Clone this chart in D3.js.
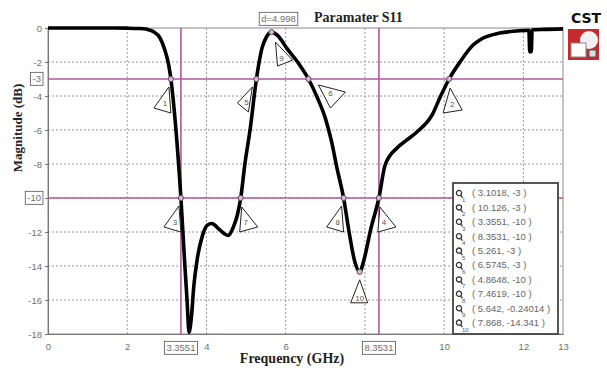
<!DOCTYPE html>
<html>
<head>
<meta charset="utf-8">
<script src="https://cdn.jsdelivr.net/npm/d3@7"></script>
<style>
  body { margin: 0; background: #fff; }
  svg { display: block; }
</style>
</head>
<body>
<div id="chart"></div>
<script>
// S11 trace
const freqGHz = [0, 0.5, 1.0, 1.5, 2.0, 2.3, 2.5, 2.65, 2.83, 2.95, 3.04, 3.1018, 3.16, 3.23, 3.3551,
  3.45, 3.51, 3.56, 3.62, 3.68, 3.76, 3.9, 4.02, 4.14, 4.3, 4.45, 4.55, 4.68, 4.78, 4.8648,
  4.97, 5.1, 5.261, 5.4, 5.52, 5.642, 5.8, 6.03, 6.3, 6.5745, 6.8, 7.0, 7.15, 7.3, 7.4619,
  7.6, 7.75, 7.868, 7.98, 8.15, 8.3531, 8.51, 8.81, 9.05, 9.32, 9.7, 9.9, 10.126, 10.4, 10.73,
  10.9, 11.4, 12.0, 12.14, 12.16, 12.2, 12.22, 12.3, 12.5, 13];
const s11dB = [0, 0, 0, 0, -0.01, -0.03, -0.08, -0.2, -0.6, -1.3, -2.1, -3, -4.2, -6, -10,
  -13.8, -16, -17.9, -17, -15.2, -13.7, -12.2, -11.6, -11.5, -11.8, -12.1, -12.2, -11.7, -11, -10,
  -8, -6, -3, -1.2, -0.5, -0.24014, -0.45, -1.2, -2.0, -3, -4.1, -5.3, -6.6, -8.3, -10,
  -12, -13.8, -14.341, -13.6, -11.8, -10, -8.06, -7.06, -6.6, -6.1, -5.1, -4.06, -3, -2.0, -1.0,
  -0.7, -0.3, -0.15, -0.13, -1.4, -1.4, -0.12, -0.1, -0.08, -0.05];

// markers 1..10
const markerFreq = [3.1018, 10.126, 3.3551, 8.3531, 5.261, 6.5745, 4.8648, 7.4619, 5.642, 7.868];
const markerDb = [-3, -3, -10, -10, -3, -3, -10, -10, -0.24014, -14.341];
const markerFlag = ['left', 'right2', 'left', 'right', 'tilt5', 'tilt6', 'right', 'left', 'top9', 'down'];

const xTicks = [0, 2, 4, 6, 8, 10, 12, 13];
const yTicks = [0, -2, -4, -6, -8, -10, -12, -14, -16, -18];
const refLevels = [-3, -10];
const refFreqs = [3.3551, 8.3531];

const w = 607, h = 372;
const pLeft = 48, pRight = 563, pTop = 28, pBottom = 334;
const purple = '#b0589f';

const svg = d3.select('#chart').append('svg').attr('width', w).attr('height', h);

const x = d3.scaleLinear().domain([0, 13]).range([pLeft, pRight]);
const y = d3.scaleLinear().domain([0, -18]).range([pTop, pBottom]);

// grid
svg.append('g').selectAll('line').data(xTicks.filter(d => d > 0 && d < 13)).enter().append('line')
  .attr('x1', d => x(d)).attr('x2', d => x(d)).attr('y1', pTop).attr('y2', pBottom)
  .attr('stroke', '#9a9a9a').attr('stroke-dasharray', '2,2');
svg.append('g').selectAll('line').data(yTicks.filter(d => d < 0 && d > -18)).enter().append('line')
  .attr('x1', pLeft).attr('x2', pRight).attr('y1', d => y(d)).attr('y2', d => y(d))
  .attr('stroke', '#9a9a9a').attr('stroke-dasharray', '2,2');

// frame
svg.append('rect').attr('x', pLeft).attr('y', pTop).attr('width', pRight - pLeft).attr('height', pBottom - pTop)
  .attr('fill', 'none').attr('stroke', '#8a8a8a').attr('stroke-width', 1);

// axes
const yAxis = svg.append('g').attr('transform', `translate(${pLeft},0)`)
  .call(d3.axisLeft(y).tickValues(yTicks).tickSize(3).tickFormat(d => d));
const xAxis = svg.append('g').attr('transform', `translate(0,${pBottom})`)
  .call(d3.axisBottom(x).tickValues(xTicks).tickSize(0).tickPadding(9).tickFormat(d => d));
[yAxis, xAxis].forEach(a => {
  a.select('.domain').attr('stroke', '#777');
  a.selectAll('.tick line').attr('stroke', '#777');
  a.selectAll('.tick text').attr('fill', '#707070').style('font-family', 'Liberation Sans, sans-serif').style('font-size', '9.5px');
});
yAxis.selectAll('.tick text').attr('x', -6);
// the 8 GHz label sits under the marker box
xAxis.selectAll('.tick').filter(d => d === 8).select('text').remove();

// reference lines
svg.append('g').selectAll('line').data(refLevels).enter().append('line')
  .attr('x1', pLeft).attr('x2', pRight).attr('y1', d => y(d)).attr('y2', d => y(d))
  .attr('stroke', purple).attr('stroke-width', 1.6);
svg.append('g').selectAll('line').data(refFreqs).enter().append('line')
  .attr('x1', d => x(d)).attr('x2', d => x(d)).attr('y1', pTop).attr('y2', pBottom)
  .attr('stroke', purple).attr('stroke-width', 1.6);

// boxed labels for the reference lines
function boxLabel(cx, cy, txt, anchor) {
  const g = svg.append('g');
  const t = g.append('text').attr('x', cx).attr('y', cy).attr('dy', '0.35em')
    .attr('text-anchor', anchor).attr('fill', '#707070')
    .style('font-family', 'Liberation Sans, sans-serif').style('font-size', '9.5px').text(txt);
  const b = t.node().getBBox();
  g.insert('rect', 'text').attr('x', b.x - 2).attr('y', b.y - 1).attr('width', b.width + 4).attr('height', b.height + 2)
    .attr('fill', '#fff').attr('stroke', '#555').attr('stroke-width', 0.8);
}
refLevels.forEach(v => {
  yAxis.selectAll('.tick').filter(d => d === v).select('text').remove();
  boxLabel(pLeft - 7, y(v), v, 'end');
});
refFreqs.forEach(f => boxLabel(x(f), pBottom + 14, f, 'middle'));
boxLabel(x(5.642) + 7, 19, 'd=' + d3.format('.4')(refFreqs[1] - refFreqs[0]), 'middle');

// trace
const line = d3.line().x((d, i) => x(freqGHz[i])).y(d => y(d)).curve(d3.curveMonotoneX);
svg.append('path').datum(s11dB).attr('d', line)
  .attr('fill', 'none').attr('stroke', '#000').attr('stroke-width', 3.6).attr('stroke-linejoin', 'round');

// marker flags
const flags = {
  left:   { pts: [[-2, 8], [-17, 29], [0, 34]], t: [-6, 27] },
  right:  { pts: [[1, 9], [-1, 34], [17, 29]], t: [5, 27] },
  right2: { pts: [[1, 9], [-6, 34], [13, 31]], t: [3, 28] },
  tilt5:  { pts: [[-4, 8], [-19, 24], [-8, 33]], t: [-10, 26] },
  tilt6:  { pts: [[10, 6], [22, 29], [37, 13]], t: [22, 17] },
  top9:   { pts: [[4, 10], [6, 34], [21, 28]], t: [10, 29] },
  down:   { pts: [[0, 8], [-9, 31], [8, 31]], t: [0, 29] }
};
const mk = svg.append('g').selectAll('g').data(markerFreq).enter().append('g')
  .attr('transform', (d, i) => `translate(${x(d)},${y(markerDb[i])})`);
mk.append('polygon')
  .attr('points', (d, i) => flags[markerFlag[i]].pts.map(p => p.join(',')).join(' '))
  .attr('fill', '#fff').attr('stroke', '#222').attr('stroke-width', 1);
mk.append('text')
  .attr('x', (d, i) => flags[markerFlag[i]].t[0]).attr('y', (d, i) => flags[markerFlag[i]].t[1])
  .attr('text-anchor', 'middle').attr('fill', '#555')
  .style('font-family', 'Liberation Sans, sans-serif').style('font-size', '8px')
  .text((d, i) => i + 1);
mk.append('circle').attr('r', 2.6).attr('fill', '#d8b8d8').attr('stroke', '#6a4a6a').attr('stroke-width', 1);

// legend
const lg = svg.append('g');
lg.append('rect').attr('x', 453).attr('y', 183).attr('width', 105).attr('height', 151)
  .attr('fill', '#fff').attr('stroke', '#444').attr('stroke-width', 1.8);
const rows = lg.selectAll('g').data(markerFreq).enter().append('g')
  .attr('transform', (d, i) => `translate(459,${193 + i * 14.4})`);
rows.append('circle').attr('r', 2.6).attr('fill', 'none').attr('stroke', '#333').attr('stroke-width', 1.3);
rows.append('line').attr('x1', 1.5).attr('y1', 2).attr('x2', 3.5).attr('y2', 4.5).attr('stroke', '#333').attr('stroke-width', 1.3);
rows.append('text').attr('x', 3).attr('y', 9).attr('fill', '#555')
  .style('font-family', 'Liberation Sans, sans-serif').style('font-size', '6px').text((d, i) => i + 1);
rows.append('text').attr('x', 13).attr('dy', '0.35em').attr('fill', '#666')
  .style('font-family', 'Liberation Sans, sans-serif').style('font-size', '9.5px')
  .text((d, i) => `( ${d}, ${markerDb[i]} )`);

// titles
svg.append('text').attr('x', 314).attr('y', 22).attr('fill', '#222')
  .style('font-family', 'Liberation Serif, serif').style('font-weight', 'bold').style('font-size', '14px')
  .text('Paramater  S11');
svg.append('text').attr('x', 292).attr('y', 363).attr('text-anchor', 'middle').attr('fill', '#222')
  .style('font-family', 'Liberation Serif, serif').style('font-weight', 'bold').style('font-size', '14px')
  .text('Frequency (GHz)');
svg.append('text').attr('transform', 'translate(22,128) rotate(-90)').attr('text-anchor', 'middle').attr('fill', '#222')
  .style('font-family', 'Liberation Serif, serif').style('font-weight', 'bold').style('font-size', '13px')
  .text('Magnitude (dB)');

// CST logo
svg.append('text').attr('x', 586).attr('y', 23).attr('text-anchor', 'middle').attr('fill', '#111')
  .style('font-family', 'DejaVu Sans, sans-serif').style('font-weight', 'bold').style('font-size', '14px')
  .text('CST');
const logo = svg.append('g').attr('transform', 'translate(568,29)');
logo.append('rect').attr('width', 31).attr('height', 31).attr('fill', '#c62a2f');
logo.append('circle').attr('cx', 21).attr('cy', 11).attr('r', 9).attr('fill', '#f2f2f2');
logo.append('rect').attr('x', 3).attr('y', 14).attr('width', 15).attr('height', 14).attr('fill', '#fff').attr('stroke', '#888');
logo.append('rect').attr('x', 21).attr('y', 21).attr('width', 7).attr('height', 7).attr('fill', '#ddd').attr('stroke', '#555');
</script>
</body>
</html>
